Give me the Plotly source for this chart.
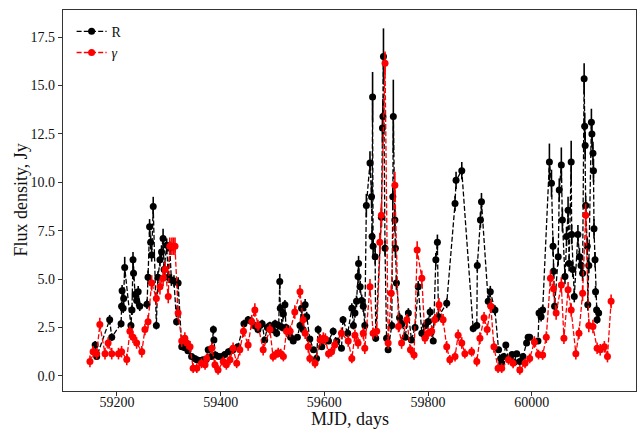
import plotly.graph_objects as go

# ---- R band (black) ----
r_mjd = [59158, 59161, 59186, 59190, 59208, 59209, 59210, 59212, 59213, 59215,
         59227, 59229, 59231, 59232, 59235, 59238, 59241, 59244, 59258, 59260,
         59263, 59265, 59267, 59270, 59276, 59279, 59283, 59286, 59289, 59291,
         59296, 59299, 59302, 59305, 59310, 59315, 59318, 59325, 59331, 59337,
         59344, 59350, 59354, 59360, 59366, 59372, 59376, 59382, 59386, 59387,
         59390, 59396, 59402, 59408, 59415, 59420, 59424, 59433, 59445, 59453,
         59458, 59465, 59472, 59476, 59480, 59485, 59490, 59495, 59500, 59505,
         59508, 59512, 59514, 59515, 59519, 59521, 59524, 59526, 59530, 59535,
         59540, 59548, 59553, 59556, 59559, 59563, 59566, 59572, 59579, 59585,
         59588, 59595, 59601, 59608, 59617, 59624, 59633, 59636, 59645, 59653,
         59656, 59659, 59662, 59665, 59666, 59669, 59672, 59675, 59678, 59681,
         59688, 59691, 59692, 59693, 59694, 59698, 59699, 59710, 59712, 59713,
         59714, 59717, 59720, 59723, 59730, 59732, 59733, 59736, 59737, 59739,
         59745, 59750, 59756, 59762, 59768, 59775, 59781, 59788, 59795, 59800,
         59804, 59810, 59815, 59818, 59820, 59836, 59852, 59854, 59865, 59887,
         59894, 59895, 59901, 59903, 59916, 59920, 59929, 59936, 59940, 59942,
         59946, 59950, 59955, 59958, 59962, 59966, 59971, 59977, 59983, 59990,
         59993, 59996, 60012, 60014, 60018, 60021, 60034, 60038, 60041, 60042,
         60044, 60051, 60053, 60057, 60059, 60064, 60067, 60070, 60072, 60076,
         60077, 60079, 60082, 60089, 60092, 60095, 60098, 60101, 60102, 60103,
         60104, 60107, 60108, 60110, 60115, 60116, 60118, 60119, 60120, 60122,
         60123, 60125, 60126, 60129]
r_flux = [1.6, 1.0, 2.9, 2.0, 2.7, 3.6, 4.4, 3.5, 4.0, 5.6,
          2.6, 3.4, 6.0, 5.3, 4.2, 3.9, 4.35, 3.6, 3.7, 5.1,
          7.7, 6.9, 6.25, 8.75, 2.6, 5.1, 6.0, 6.4, 7.1, 5.5,
          6.75, 5.1, 6.6, 4.95, 4.9, 2.8, 4.8, 1.5, 1.45, 1.3,
          1.0, 0.9, 0.83, 0.8, 0.83, 0.85, 1.35, 1.0, 2.4, 1.86,
          1.08, 1.0, 1.0, 1.1, 1.25, 1.3, 1.35, 1.5, 2.7, 2.9,
          2.85, 2.6, 2.4, 2.6, 2.7, 1.86, 2.5, 2.6, 2.4, 2.7,
          2.2, 2.6, 4.87, 3.5, 2.5, 3.2, 3.67, 2.5, 2.3, 2.0,
          1.8, 2.0, 2.6, 3.5, 2.4, 3.67, 3.06, 1.9, 1.35, 0.9,
          2.4, 1.5, 1.86, 1.8, 2.3, 1.8, 1.43, 2.9, 2.2, 3.5,
          2.6, 3.25, 3.85, 5.13, 5.8, 4.6, 3.9, 3.6, 2.6, 8.8,
          11.0, 9.25, 7.2, 14.4, 6.7, 6.15, 1.95, 8.2, 12.8, 13.4,
          16.5, 6.6, 1.95, 1.35, 2.6, 9.25, 13.4, 8.05, 6.6, 4.8,
          3.0, 2.7, 2.0, 3.25, 1.86, 2.5, 4.6, 2.2, 2.6, 2.8,
          3.3, 1.8, 6.0, 6.9, 3.06, 3.75, 8.9, 10.1, 10.6, 2.45,
          2.6, 5.7, 8.05, 9.0, 3.85, 4.35, 3.4, 1.35, 0.9, 0.67,
          1.0, 1.6, 0.9, 0.83, 1.1, 0.7, 1.15, 0.74, 1.0, 1.7,
          2.0, 2.0, 1.8, 3.25, 3.06, 3.4, 11.05, 9.95, 6.7, 5.4,
          3.6, 6.15, 9.6, 10.9, 8.05, 5.13, 7.2, 8.55, 5.8, 11.05,
          7.3, 5.5, 4.1, 7.3, 6.15, 5.7, 5.3, 15.35, 12.9, 11.9,
          8.8, 6.7, 3.67, 5.7, 13.1, 12.5, 11.5, 10.6, 7.6, 6.0,
          4.35, 3.4, 2.9, 3.25]
r_err = [0.2, 0.15, 0.25, 0.2, 0.2, 0.25, 0.3, 0.25, 0.3, 0.55,
         0.2, 0.25, 0.4, 0.35, 0.3, 0.3, 0.3, 0.25, 0.25, 0.35,
         0.4, 0.35, 0.35, 0.5, 0.2, 0.3, 0.35, 0.35, 0.5, 0.3,
         0.35, 0.3, 0.35, 0.3, 0.3, 0.2, 0.3, 0.15, 0.15, 0.12,
         0.1, 0.1, 0.1, 0.1, 0.1, 0.1, 0.12, 0.1, 0.2, 0.15,
         0.1, 0.1, 0.1, 0.1, 0.12, 0.12, 0.12, 0.15, 0.2, 0.2,
         0.2, 0.2, 0.2, 0.2, 0.2, 0.15, 0.2, 0.2, 0.2, 0.2,
         0.2, 0.2, 0.4, 0.25, 0.2, 0.25, 0.25, 0.2, 0.2, 0.15,
         0.15, 0.15, 0.2, 0.25, 0.2, 0.3, 0.25, 0.15, 0.12, 0.1,
         0.2, 0.15, 0.15, 0.15, 0.2, 0.15, 0.15, 0.2, 0.2, 0.25,
         0.2, 0.25, 0.3, 0.35, 0.4, 0.3, 0.3, 0.3, 0.2, 0.6,
         0.6, 0.6, 0.5, 1.3, 0.45, 0.4, 0.2, 0.5, 0.8, 0.9,
         1.45, 0.4, 0.2, 0.15, 0.2, 0.7, 1.9, 0.6, 0.5, 0.35,
         0.25, 0.2, 0.15, 0.25, 0.15, 0.2, 0.3, 0.2, 0.2, 0.2,
         0.25, 0.15, 0.35, 0.4, 0.25, 0.25, 0.4, 0.45, 0.45, 0.2,
         0.2, 0.3, 0.4, 0.45, 0.3, 0.3, 0.25, 0.15, 0.1, 0.1,
         0.1, 0.15, 0.1, 0.1, 0.1, 0.1, 0.1, 0.1, 0.1, 0.15,
         0.15, 0.15, 0.15, 0.25, 0.25, 0.25, 0.95, 0.7, 0.5, 0.4,
         0.3, 0.45, 0.6, 0.9, 0.6, 0.4, 0.5, 0.7, 0.4, 1.1,
         0.5, 0.4, 0.3, 0.5, 0.45, 0.4, 0.4, 0.8, 0.7, 0.7,
         0.5, 0.45, 0.3, 0.4, 0.7, 0.7, 0.6, 0.6, 0.5, 0.4,
         0.3, 0.25, 0.2, 0.25]

# ---- gamma (red) ----
g_mjd = [59148, 59154, 59161, 59167, 59177, 59183, 59190, 59203, 59209, 59219,
         59225, 59231, 59238, 59248, 59254, 59260, 59267, 59276, 59283, 59289,
         59293, 59299, 59302, 59306, 59309, 59312, 59318, 59325, 59331, 59335,
         59341, 59347, 59354, 59363, 59370, 59373, 59383, 59389, 59395, 59405,
         59411, 59418, 59424, 59431, 59437, 59444, 59453, 59460, 59466, 59472,
         59482, 59495, 59501, 59506, 59511, 59516, 59521, 59527, 59534, 59543,
         59553, 59559, 59563, 59569, 59572, 59582, 59592, 59598, 59602, 59608,
         59614, 59620, 59633, 59646, 59653, 59659, 59665, 59675, 59678, 59688,
         59694, 59701, 59707, 59710, 59717, 59723, 59729, 59736, 59743, 59749,
         59759, 59766, 59773, 59779, 59788, 59794, 59800, 59807, 59813, 59821,
         59829, 59836, 59842, 59852, 59858, 59865, 59871, 59884, 59894, 59900,
         59908, 59914, 59921, 59927, 59935, 59942, 59955, 59964, 59977, 59987,
         59996, 60005, 60013, 60021, 60028, 60036, 60042, 60047, 60057, 60062,
         60070, 60076, 60085, 60091, 60098, 60104, 60110, 60118, 60126, 60132,
         60140, 60146, 60153]
g_flux = [0.75, 1.25, 1.15, 2.65, 1.15, 1.7, 1.15, 1.15, 1.25, 0.85,
          2.3, 2.0, 1.7, 1.25, 2.4, 2.8, 4.8, 4.0, 4.6, 5.05,
          5.5, 4.1, 6.7, 6.7, 6.7, 6.7, 3.25, 1.8, 1.95, 1.7,
          1.5, 0.4, 0.4, 0.65, 0.57, 0.9, 1.43, 0.57, 0.31, 0.74,
          0.57, 0.83, 1.43, 0.65, 1.35, 2.3, 1.6, 2.8, 3.4, 2.6,
          1.35, 2.4, 1.0, 1.1, 1.2, 1.15, 1.0, 2.3, 2.3, 3.3,
          4.35, 2.9, 2.2, 1.5, 0.9, 0.65, 1.86, 1.95, 1.9, 1.15,
          1.25, 1.6, 2.2, 1.8, 0.9, 2.1, 1.7, 2.2, 1.43, 4.6,
          2.2, 2.3, 6.9, 8.3, 16.15, 1.7, 4.27, 9.85, 2.55, 1.7,
          2.9, 1.35, 1.08, 6.5, 5.05, 1.95, 2.2, 2.3, 2.9, 3.67,
          2.9, 1.5, 0.83, 1.0, 2.1, 1.7, 1.15, 1.25, 0.74, 1.95,
          3.0, 2.4, 3.6, 1.5, 0.4, 0.4, 0.83, 0.65, 0.31, 0.65,
          0.9, 1.75, 1.1, 1.08, 2.0, 5.05, 4.5, 3.25, 4.7, 1.95,
          4.45, 3.4, 1.15, 2.2, 4.27, 8.3, 2.6, 2.55, 1.43, 1.35,
          1.5, 1.0, 3.85]
g_err = [0.3, 0.3, 0.3, 0.35, 0.3, 0.3, 0.3, 0.3, 0.3, 0.3,
         0.3, 0.3, 0.3, 0.3, 0.3, 0.35, 0.4, 0.35, 0.4, 0.4,
         0.4, 0.35, 0.45, 0.45, 0.45, 0.45, 0.35, 0.3, 0.3, 0.3,
         0.3, 0.25, 0.25, 0.25, 0.25, 0.25, 0.3, 0.25, 0.25, 0.25,
         0.25, 0.25, 0.3, 0.25, 0.3, 0.3, 0.3, 0.35, 0.35, 0.3,
         0.3, 0.3, 0.25, 0.25, 0.25, 0.25, 0.25, 0.3, 0.3, 0.35,
         0.35, 0.3, 0.3, 0.3, 0.25, 0.25, 0.3, 0.3, 0.3, 0.25,
         0.25, 0.3, 0.3, 0.3, 0.25, 0.3, 0.3, 0.3, 0.3, 0.4,
         0.3, 0.3, 0.5, 0.6, 0.6, 0.3, 0.4, 0.7, 0.3, 0.3,
         0.3, 0.25, 0.25, 0.45, 0.4, 0.3, 0.3, 0.3, 0.3, 0.35,
         0.3, 0.3, 0.25, 0.25, 0.3, 0.3, 0.25, 0.25, 0.25, 0.3,
         0.3, 0.3, 0.35, 0.3, 0.25, 0.25, 0.25, 0.25, 0.25, 0.25,
         0.25, 0.3, 0.25, 0.25, 0.3, 0.4, 0.4, 0.35, 0.4, 0.3,
         0.4, 0.35, 0.3, 0.3, 0.4, 0.6, 0.35, 0.35, 0.3, 0.3,
         0.3, 0.3, 0.35]

FONT = "Liberation Serif, Times New Roman, serif"
DASH = "5px,2.2px"

fig = go.Figure()
fig.add_trace(go.Scatter(
    x=r_mjd, y=r_flux, name="R", mode="lines+markers",
    line=dict(color="black", width=1.3, dash=DASH),
    marker=dict(color="black", size=7),
    error_y=dict(type="data", array=r_err, color="black", thickness=1.6, width=0),
))
fig.add_trace(go.Scatter(
    x=g_mjd, y=g_flux, name="<i>γ</i>", mode="lines+markers",
    line=dict(color="red", width=1.3, dash=DASH),
    marker=dict(color="red", size=7),
    error_y=dict(type="data", array=g_err, color="red", thickness=1.6, width=0),
))

axis_common = dict(
    showgrid=False, zeroline=False, showline=True, mirror=True,
    linecolor="#333333", linewidth=1.2,
    ticks="outside", ticklen=4, tickcolor="#333333", tickwidth=1,
    tickfont=dict(family=FONT, size=14, color="#111111"),
    automargin=False,
)
fig.update_xaxes(range=[59096, 60201], tickvals=[59200, 59400, 59600, 59800, 60000],
                 tickformat="d", ticklabelstandoff=-6, **axis_common)
fig.update_yaxes(range=[-0.78, 18.9], tickvals=[0, 2.5, 5, 7.5, 10, 12.5, 15, 17.5],
                 tickformat=".1f", **axis_common)

TOP, BOTTOM = 10, 39
PLOT_H = 430 - TOP - BOTTOM
fig.update_layout(
    width=639, height=430,
    margin=dict(l=63, r=3, t=TOP, b=BOTTOM),
    plot_bgcolor="white", paper_bgcolor="white",
    font=dict(family=FONT, size=14, color="#111111"),
    legend=dict(x=0.015, y=0.985, xanchor="left", yanchor="top",
                bgcolor="rgba(0,0,0,0)", font=dict(family=FONT, size=14),
                itemwidth=30, tracegroupgap=2),
    showlegend=True,
    annotations=[
        dict(text="MJD, days", xref="paper", yref="paper", x=0.5, y=-(419 - (430 - BOTTOM)) / PLOT_H,
             xanchor="center", yanchor="middle", showarrow=False,
             font=dict(family=FONT, size=18, color="#111111")),
        dict(text="Flux density, Jy", xref="paper", yref="paper", x=-(63 - 20) / 573, y=0.5,
             xanchor="center", yanchor="middle", textangle=-90, showarrow=False,
             font=dict(family=FONT, size=18, color="#111111")),
    ],
)
fig.write_html("out.html")
